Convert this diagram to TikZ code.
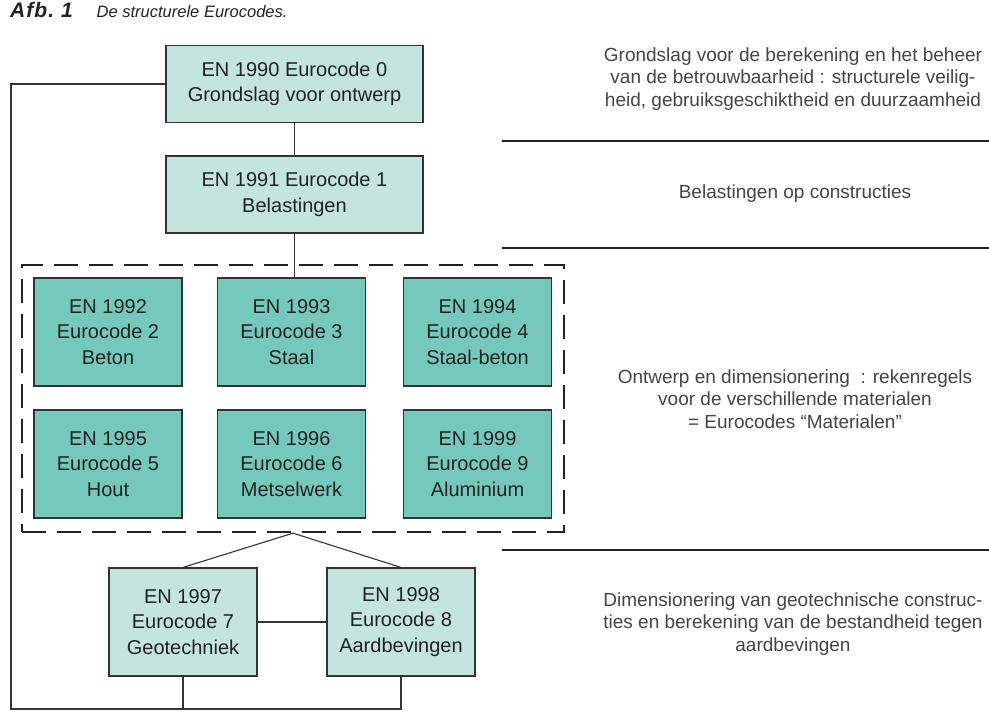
\documentclass[tikz,border=0pt]{standalone}
\usepackage{fontspec}
\setmainfont{Liberation Sans}
\definecolor{lightteal}{HTML}{C4E5DE}
\definecolor{darkteal}{HTML}{74C9BC}
\definecolor{edge}{HTML}{333333}
\definecolor{txt}{HTML}{222222}
\definecolor{side}{HTML}{444444}
\tikzset{
  boxbase/.style={draw=edge, line width=1.2pt, align=center, text=txt,
    font=\fontsize{20}{25.5}\selectfont, inner sep=0pt},
  lightbox/.style={boxbase, fill=lightteal, minimum width=257pt, minimum height=77pt},
  darkbox/.style={boxbase, fill=darkteal, minimum width=148pt, minimum height=108pt},
  geobox/.style={boxbase, fill=lightteal, minimum width=148pt, minimum height=108pt},
  dashbox/.style={draw=txt, line width=2.3pt, dash pattern=on 24pt off 11pt,
    minimum width=542pt, minimum height=267pt, inner sep=0pt},
  conn/.style={draw=edge, line width=1.1pt},
  sep/.style={draw=txt, line width=1.3pt},
  sidetext/.style={align=center, text=side, font=\fontsize{19}{22.5}\selectfont, inner sep=0pt}
}
\begin{document}
\begin{tikzpicture}[x=1pt,y=-1pt]
\useasboundingbox (0,0) rectangle (989,724);
% title
\node[anchor=base west, inner sep=0pt, text=txt] (title) at (10,17)
  {{\fontsize{21}{21}\selectfont\bfseries\itshape\addfontfeatures{LetterSpace=5}Afb.\ 1}\hspace{24pt}{\fontsize{16.5}{16.5}\selectfont\itshape De structurele Eurocodes.}};

% top boxes
\node[lightbox] (en0) at (294.5,84) {EN 1990 Eurocode 0\\Grondslag voor ontwerp};
\node[lightbox] (en1) at (294.5,194.5) {EN 1991 Eurocode 1\\Belastingen};

% material group
\node[dashbox] (mat) at (293,398.5) {};
\node[darkbox] (d2) at (108,332) {EN 1992\\Eurocode 2\\Beton};
\node[darkbox] (d3) at (291.5,332) {EN 1993\\Eurocode 3\\Staal};
\node[darkbox] (d4) at (477.5,332) {EN 1994\\Eurocode 4\\Staal-beton};
\node[darkbox] (d5) at (108,464) {EN 1995\\Eurocode 5\\Hout};
\node[darkbox] (d6) at (291.5,464) {EN 1996\\Eurocode 6\\Metselwerk};
\node[darkbox] (d9) at (477.5,464) {EN 1999\\Eurocode 9\\Aluminium};

% geo boxes
\node[geobox] (e7) at (183,622) {EN 1997\\Eurocode 7\\Geotechniek};
\node[geobox] (e8) at (401,622) {EN 1998\\Eurocode 8\\Aardbevingen};

% connectors
\draw[conn] (en0.south) -- (en1.south |- en1.north);
\draw[conn] (en1.south) -- (en1.south |- d3.north);
\draw[conn] (mat.south) -- (e7.north);
\draw[conn] (mat.south) -- (e8.north);
\draw[conn] (e7.east) -- (e8.west);
\coordinate (bl) at (11,709);
\draw[conn] (en0.west) -| (bl) -| (e8.south);
\draw[conn] (e7.south) -- (e7.south |- bl);

% separators
\draw[sep] (502,141) -- (989,141);
\draw[sep] (502,248) -- (989,248);
\draw[sep] (502,550) -- (989,550);

% side texts
\node[sidetext] (t0) at (793,79) {Grondslag voor de berekening en het beheer\\van de betrouwbaarheid : structurele veilig-\\heid, gebruiksgeschiktheid en duurzaamheid};
\node[sidetext] (t1) at (795,194) {Belastingen op constructies};
\node[sidetext] (t2) at (795,399) {Ontwerp en dimensionering \ : rekenregels\\voor de verschillende materialen\\= Eurocodes “Materialen”};
\node[sidetext] (t3) at (793,624) {Dimensionering van geotechnische construc-\\ties en berekening van de bestandheid tegen\\aardbevingen};
\end{tikzpicture}
\end{document}
